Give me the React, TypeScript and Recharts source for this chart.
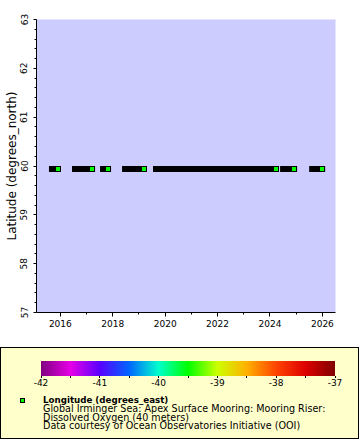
import React from "react";
import {
  ComposedChart,
  Line,
  Scatter,
  XAxis,
  YAxis,
  CartesianGrid,
  ReferenceArea,
} from "recharts";

// mooring latitude (degrees_north)
const LAT = 59.94;
// deployment periods, decimal years (first / last sample)
const segStart = [2015.68, 2016.56, 2017.63, 2018.47, 2019.65, 2024.5, 2025.61];
const segEnd = [2015.91, 2017.21, 2017.82, 2019.19, 2024.23, 2024.92, 2025.99];

const yearTicks = [2016, 2018, 2020, 2022, 2024, 2026];
const yearMinor = [2017, 2019, 2021, 2023, 2025];
const latTicks = [57, 58, 59, 60, 61, 62, 63];
const lonTicks = [-42, -41, -40, -39, -38, -37];
const lonMinor = [-41.5, -40.5, -39.5, -38.5, -37.5];

// colour bar stops (Rainbow palette)
const rainbow = [
  "#800080",
  "#e600e6",
  "#5a00ff",
  "#0066ff",
  "#00ffcc",
  "#00ff00",
  "#ccff00",
  "#ffb000",
  "#ff4400",
  "#dd0000",
  "#800000",
];
const markerColor = "#00ff00";

const FONT = "DejaVu Sans";

const allYears = [...yearTicks, ...yearMinor].sort((a, b) => a - b);
const allLat: number[] = [];
latTicks.forEach((v, i) => {
  allLat.push(v);
  if (i < latTicks.length - 1) {
    for (let k = 1; k < 5; k++) allLat.push(Math.round((v + k * 0.2) * 10) / 10);
  }
});
const allLon = [...lonTicks, ...lonMinor].sort((a, b) => a - b);

const crisp = (v: number) => Math.round(v - 0.5) + 0.5;

function TimeTick({ x, y, payload }: any) {
  const v = payload.value;
  const major = yearTicks.includes(v);
  const xx = crisp(x);
  return (
    <g>
      <line x1={xx} x2={xx} y1={y} y2={y + (major ? 4 : 2)} stroke="#000" />
      {major && (
        <text x={x} y={y + 14.5} textAnchor="middle" fontSize={9} fontFamily={FONT} fill="#000">
          {v}
        </text>
      )}
    </g>
  );
}

function LatTick({ x, y, payload }: any) {
  const v = payload.value;
  const major = latTicks.includes(v);
  const yy = crisp(y);
  const tx = x - 9;
  return (
    <g>
      <line x1={x} x2={x - (major ? 3 : 2)} y1={yy} y2={yy} stroke="#000" />
      {major && (
        <text
          x={tx}
          y={y}
          transform={`rotate(-90 ${tx} ${y})`}
          textAnchor="middle"
          fontSize={9}
          fontFamily={FONT}
          fill="#000"
        >
          {v}
        </text>
      )}
    </g>
  );
}

function LonTick({ x, y, payload }: any) {
  const v = payload.value;
  const major = lonTicks.includes(v);
  const xx = crisp(x);
  return (
    <g>
      <line x1={xx} x2={xx} y1={y} y2={y + 2} stroke="#000" />
      {major && (
        <text x={x} y={y + 9.5} textAnchor="middle" fontSize={9} fontFamily={FONT} fill="#000">
          {v}
        </text>
      )}
    </g>
  );
}

function EndMarker({ cx, cy }: any) {
  const x = Math.round(cx);
  const y = Math.round(cy);
  return (
    <g>
      <rect x={x - 3} y={y - 3} width={6} height={6} fill="#000" />
      <rect x={x - 2} y={y - 2} width={4} height={4} fill={markerColor} />
    </g>
  );
}

const YTitle = () => (
  <text
    x={16}
    y={166}
    transform="rotate(-90 16 166)"
    textAnchor="middle"
    fontSize={12}
    fontFamily={FONT}
    fill="#000"
  >
    Latitude (degrees_north)
  </text>
);

export default function App() {
  const ends = segEnd.map((t) => ({ t, lat: LAT }));
  const cbData = lonTicks.map((v) => ({ v, y: 0.5 }));

  return (
    <div style={{ position: "absolute", left: 0, top: 0, width: 360, height: 440, background: "#fff" }}>
      <svg width={0} height={0} style={{ position: "absolute" }}>
        <defs>
          <linearGradient id="rb" x1="0" y1="0" x2="1" y2="0">
            {rainbow.map((c, i) => (
              <stop key={i} offset={i / (rainbow.length - 1)} stopColor={c} />
            ))}
          </linearGradient>
        </defs>
      </svg>
      <ComposedChart
        width={360}
        height={341}
        margin={{ top: 19.5, right: 24.5, left: 0, bottom: 0 }}
      >
        <CartesianGrid fill="#ccccff" horizontal={false} vertical={false} />
        <XAxis
          dataKey="t"
          type="number"
          domain={[2015.09, 2026.5]}
          allowDataOverflow
          ticks={allYears}
          interval={0}
          height={28.5}
          tickSize={0}
          tickMargin={0}
          tickLine={false}
          tick={<TimeTick />}
          axisLine={{ stroke: "#000" }}
        />
        <XAxis
          xAxisId="top"
          orientation="top"
          type="number"
          domain={[2015.09, 2026.5]}
          height={0}
          tick={false}
          tickLine={false}
          axisLine={{ stroke: "#000" }}
        />
        <YAxis
          dataKey="lat"
          type="number"
          domain={[57, 63]}
          allowDataOverflow
          ticks={allLat}
          interval={0}
          width={36.5}
          tickSize={0}
          tickMargin={0}
          tickLine={false}
          tick={<LatTick />}
          axisLine={{ stroke: "#000" }}
          label={{ content: () => <YTitle /> }}
        />
        <YAxis
          yAxisId="right"
          orientation="right"
          type="number"
          domain={[57, 63]}
          width={0}
          tick={false}
          tickLine={false}
          axisLine={{ stroke: "#000" }}
        />
        {segStart.map((s, i) => (
          <Line
            key={i}
            data={[
              { t: s, lat: LAT },
              { t: segEnd[i], lat: LAT },
            ]}
            dataKey="lat"
            stroke="#000"
            strokeWidth={6}
            strokeLinecap="square"
            dot={false}
            activeDot={false}
            isAnimationActive={false}
          />
        ))}
        <Scatter data={ends} dataKey="lat" shape={<EndMarker />} isAnimationActive={false} />
      </ComposedChart>

      <div
        style={{
          position: "absolute",
          left: 0,
          top: 347,
          width: 359,
          height: 92,
          boxSizing: "border-box",
          border: "1px solid #000",
          background: "#ffffcc",
        }}
      />
      <div style={{ position: "absolute", left: 0, top: 350 }}>
        <ComposedChart
          width={360}
          height={39}
          data={cbData}
          margin={{ top: 11, right: 25, left: 41, bottom: 0 }}
        >
          <XAxis
            dataKey="v"
            type="number"
            domain={[-42, -37]}
            ticks={allLon}
            interval={0}
            height={13}
            tickSize={0}
            tickMargin={0}
            tickLine={false}
            axisLine={false}
            tick={<LonTick />}
          />
          <YAxis hide dataKey="y" type="number" domain={[0, 1]} />
          <ReferenceArea
            x1={-42}
            x2={-37}
            y1={0}
            y2={1}
            ifOverflow="visible"
            fill="url(#rb)"
            fillOpacity={1}
            stroke="none"
          />
        </ComposedChart>
      </div>
      <svg
        width={360}
        height={93}
        style={{ position: "absolute", left: 0, top: 347, pointerEvents: "none" }}
      >
        <rect x={20} y={51} width={5} height={5} fill="#000" />
        <rect x={21} y={52} width={3} height={3} fill={markerColor} />
        <g fontFamily={FONT} fontSize={9.6} fill="#000">
          <text x={43} y={55.8} fontWeight="bold" fontSize={8.7}>
            Longitude (degrees_east)
          </text>
          <text x={43} y={64.6}>
            Global Irminger Sea: Apex Surface Mooring: Mooring Riser:
          </text>
          <text x={43} y={73.5}>
            Dissolved Oxygen (40 meters)
          </text>
          <text x={43} y={82.4}>
            Data courtesy of Ocean Observatories Initiative (OOI)
          </text>
        </g>
      </svg>
    </div>
  );
}
